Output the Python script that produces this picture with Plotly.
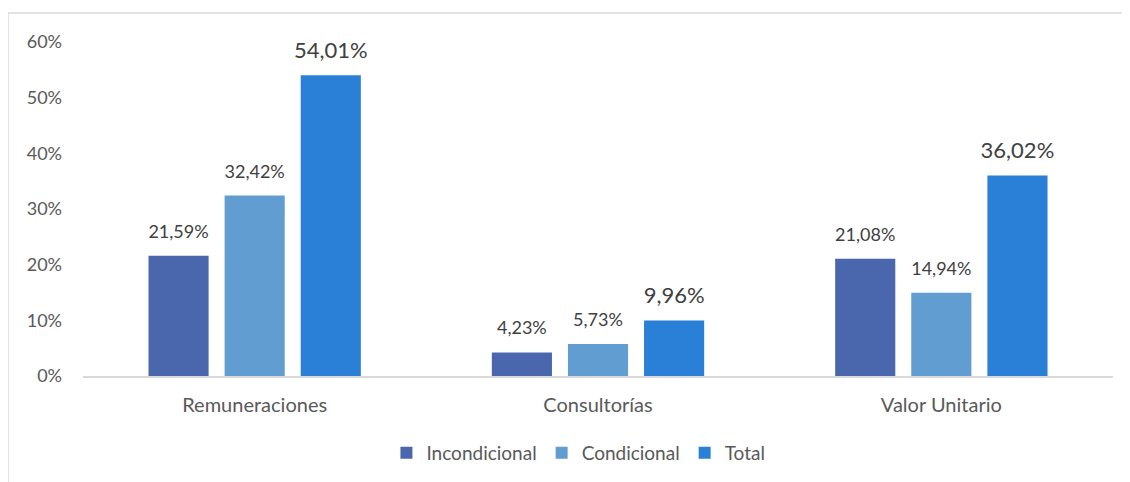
import plotly.graph_objects as go

categories = ["Remuneraciones", "Consultorías", "Valor Unitario"]
incondicional = [21.59, 4.23, 21.08]
condicional = [32.42, 5.73, 14.94]
total = [54.01, 9.96, 36.02]
series_names = ["Incondicional", "Condicional", "Total"]
colors = ["#4A66AC", "#629DD1", "#2A7FD6"]
tick_vals = [0, 10, 20, 30, 40, 50, 60]
tick_text = ["0%", "10%", "20%", "30%", "40%", "50%", "60%"]

def fmt(v):
    return f"{v:.2f}%".replace(".", ",")

FONT = "Lato"
fig = go.Figure()
series = [incondicional, condicional, total]
for name, vals, col in zip(series_names, series, colors):
    fig.add_trace(go.Bar(
        x=categories, y=vals, name=name,
        marker=dict(color=col, line=dict(width=0)),
        cliponaxis=False,
    ))
# data labels as grouped text-only scatter, aligned with bars
for name, vals, sz, msz in zip(series_names, series, [18, 18, 22], [20, 20, 17]):
    fig.add_trace(go.Scatter(
        x=categories, y=vals, mode="markers+text", showlegend=False,
        text=[fmt(v) for v in vals], textposition="top center",
        textfont=dict(size=sz, color="#404040", family=FONT),
        marker=dict(size=msz, color="rgba(0,0,0,0)"),
        hoverinfo="skip", cliponaxis=False,
    ))

fig.update_layout(
    width=1130, height=482,
    margin=dict(l=75, r=25, t=34, b=114),
    paper_bgcolor="white", plot_bgcolor="white",
    barmode="group", bargap=0.335, bargroupgap=0.21,
    scattermode="group", scattergap=0.335,
    font=dict(family=FONT, color="#595959", size=18),
    showlegend=True,
    legend=dict(orientation="h", x=0.481, xanchor="center", y=-0.23, yanchor="middle",
                font=dict(size=19, color="#595959", family=FONT), itemwidth=30,
                traceorder="normal"),
    xaxis=dict(showline=True, linecolor="#D9D9D9", linewidth=1.5, ticks="",
               tickfont=dict(size=20, color="#595959"), ticklabelstandoff=10),
    yaxis=dict(range=[0, 60], tickvals=tick_vals, ticktext=tick_text, showgrid=False,
               zeroline=False, showline=False, ticks="",
               tickfont=dict(size=18, color="#595959"), ticklabelstandoff=20),
    shapes=[dict(type="rect", xref="paper", yref="paper",
                 x0=(8 - 83) / 1030, x1=1.2, y0=-0.5, y1=(376 - 13) / 334,
                 line=dict(color="#D9D9D9", width=1.5), fillcolor="rgba(0,0,0,0)", layer="below")],
)
fig.write_html("out.html")
